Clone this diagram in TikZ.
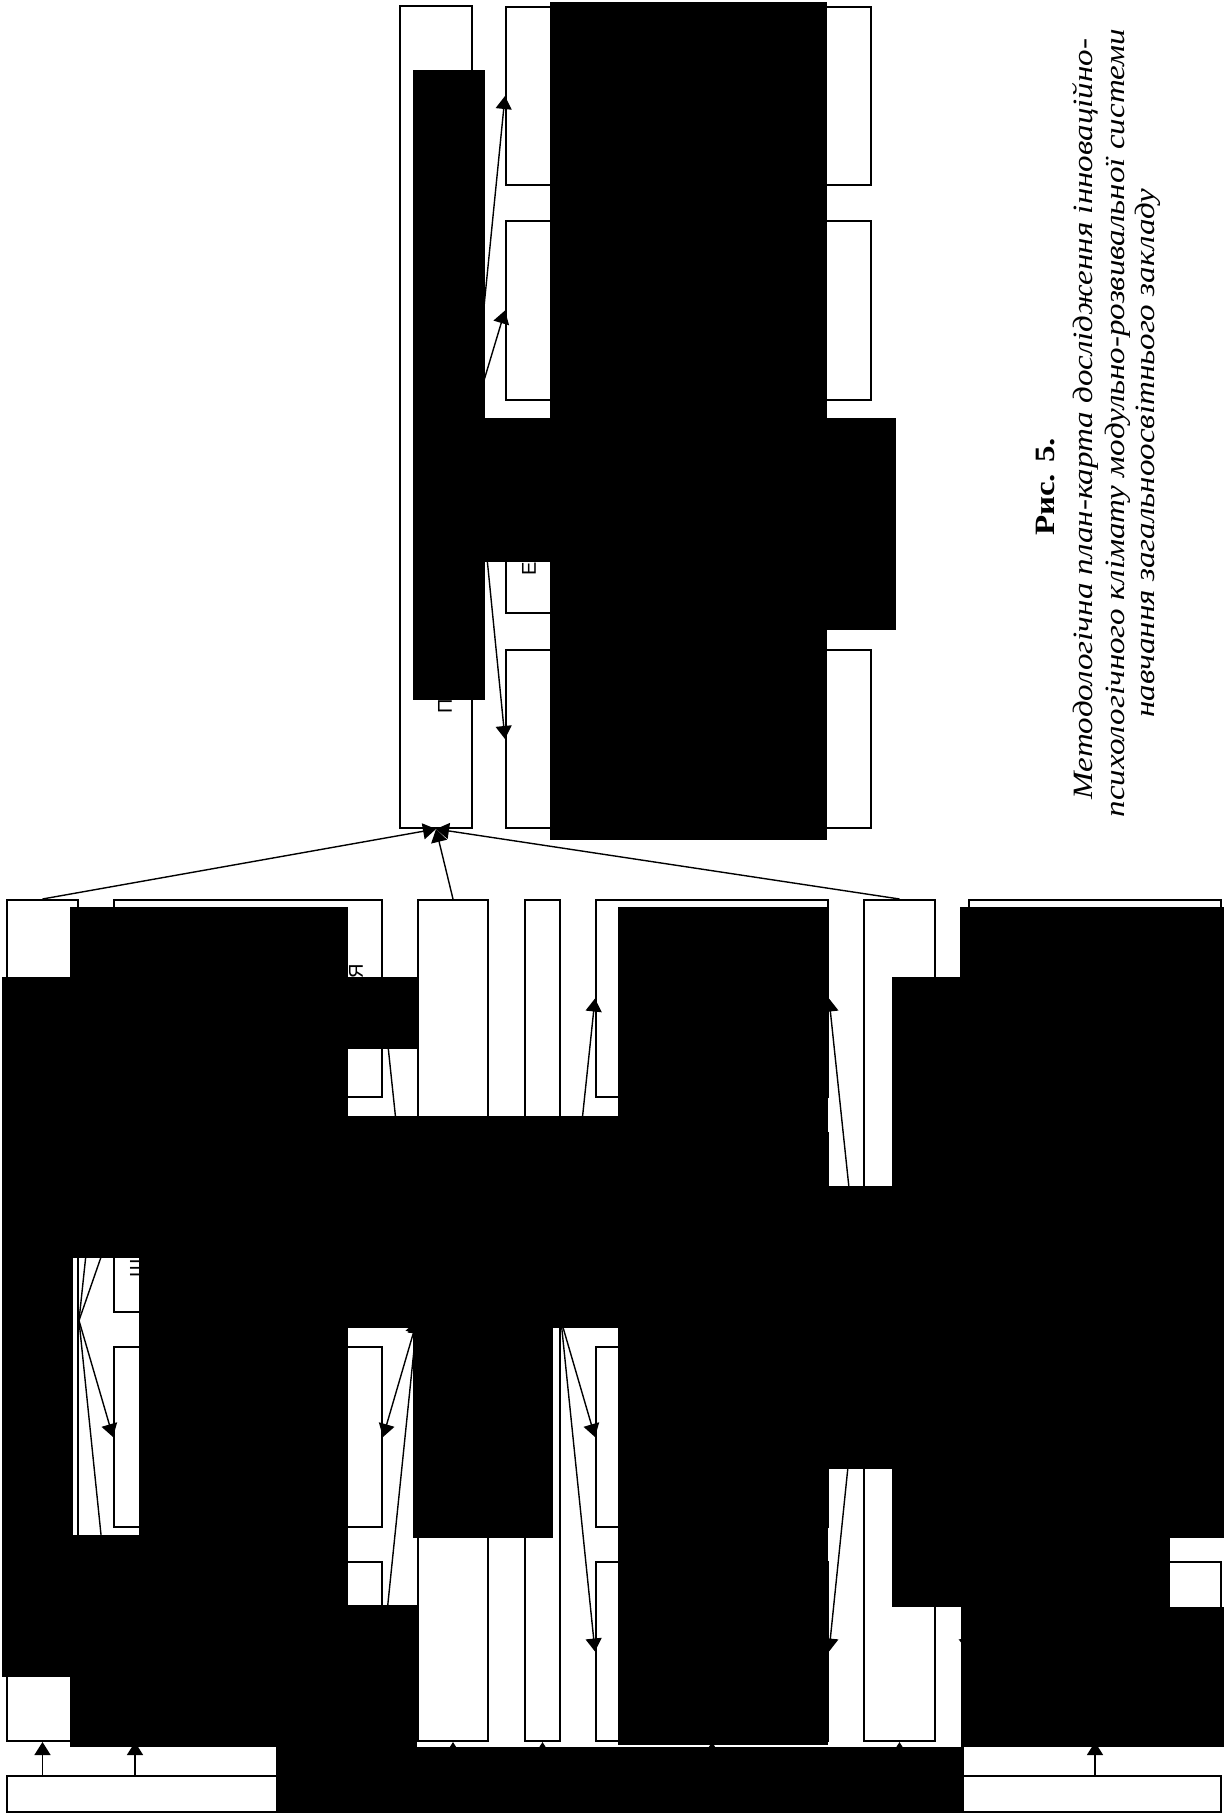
\documentclass[tikz,border=0pt]{standalone}
\usepackage{fontspec}
\setmainfont{Liberation Serif}
\newfontfamily\capfont[FakeStretch=1.18]{Liberation Serif}
\newfontfamily\markfont{Liberation Sans}
\usetikzlibrary{positioning,arrows.meta,fit}

\begin{document}
\begin{tikzpicture}[
        x=0.5pt, y=-0.5pt,
        >={Triangle[length=6.5pt,width=8pt]},
        cell/.style={
            rectangle,
            draw=black,
            line width=1pt,
            inner sep=0pt
        },
        mask/.style={rectangle, fill=black, draw=none, inner sep=0pt},
        arrow/.style={->, line width=0.7pt},
        twoway/.style={<->, line width=0.7pt},
        stub/.style={font=\markfont\fontsize{10}{10}\selectfont, rotate=90, inner sep=0pt},
        capline/.style={rotate=90, inner sep=0pt, font=\capfont\fontsize{14}{16}\selectfont}
    ]
    \useasboundingbox (0,0) rectangle (1224,1813);

    % programme box and its four blocks
    \node[cell, fit={(400,6) (472,828)}] (prog) {};
    \node[cell, fit={(506,7) (871,185)}] (task1) {};
    \node[cell, fit={(506,221) (871,400)}] (task2) {};
    \node[cell, fit={(506,436) (871,613)}] (task3) {};
    \node[cell, fit={(506,650) (871,828)}] (task4) {};

    % lower level: axes and groups
    \node[cell, fit={(7,900) (78,1741)}] (axisL) {};
    \node[cell, fit={(418,900) (488,1741)}] (axisM) {};
    \node[cell, fit={(525,900) (560,1741)}] (axisN) {};
    \node[cell, fit={(864,900) (935,1741)}] (axisR) {};
    \foreach \i/\ya/\yb in {1/900/1097, 2/1133/1312, 3/1347/1527, 4/1562/1741} {
        \node[cell, fit={(114,\ya) (382,\yb)}] (grpA\i) {};
        \node[cell, fit={(596,\ya) (828,\yb)}] (grpB\i) {};
        \node[cell, fit={(969,\ya) (1221,\yb)}] (grpC\i) {};
    }
    \node[cell, fit={(7,1776) (1221,1812)}] (base) {};

    % connectors
    \foreach \i in {1,...,4} {
        \draw[arrow] (prog.east) -- (task\i.west);
        \draw[arrow] (axisL.east) -- (grpA\i.west);
        \draw[twoway] (grpA\i.east) -- (axisM.west);
        \draw[arrow] (axisN.east) -- (grpB\i.west);
        \draw[arrow] (axisR.west) -- (grpB\i.east);
        \draw[arrow] (axisR.east) -- (grpC\i.west);
    }
    \foreach \n in {axisL, axisM, axisR}
        \draw[arrow] (\n.north) -- (prog.south);
    \foreach \n in {axisL, axisM, axisN, grpB4, axisR, grpC4}
        \draw[arrow] (base.north -| \n.south) -- (\n.south);
    \draw[arrow] ([xshift=11pt]grpA4.south west |- base.north) -- ([xshift=11pt]grpA4.south west);

    % letters left outside the dark text fields
    \node[stub] (markP) at (445,706) {П};
    \node[stub] (markE) at (529,569) {Е};
    \node[stub] (markYa) at (356,971) {Я};
    \node[stub] (markSh) at (137,1268) {Ш};

    % dark text fields
    \node[mask, fit={(413,70) (485,700)}] (ink1) {};
    \node[mask, fit={(550,2) (827,840)}] (ink2) {};
    \node[mask, fit={(485,418) (896,562)}] (ink3) {};
    \node[mask, fit={(827,418) (896,630)}] (ink4) {};
    \node[mask, fit={(70,907) (348,1258)}] (ink5) {};
    \node[mask, fit={(2,977) (417,1049)}] (ink6) {};
    \node[mask, fit={(2,977) (73,1677)}] (ink7) {};
    \node[mask, fit={(139,1116) (826,1328)}] (ink8) {};
    \node[mask, fit={(413,1116) (553,1538)}] (ink9) {};
    \node[mask, fit={(139,1258) (348,1535)}] (ink10) {};
    \node[mask, fit={(70,1535) (348,1747)}] (ink11) {};
    \node[mask, fit={(348,1605) (417,1747)}] (ink12) {};
    \node[mask, fit={(276,1747) (964,1813)}] (ink13) {};
    \node[mask, fit={(618,907) (828,1745)}] (ink14) {};
    \node[mask, fit={(828,1186) (892,1469)}] (ink15) {};
    \node[mask, fit={(892,977) (961,1607)}] (ink16) {};
    \node[mask, fit={(960,907) (1224,1538)}] (ink17) {};
    \node[mask, fit={(892,1186) (1170,1607)}] (ink18) {};
    \node[mask, fit={(961,1607) (1224,1747)}] (ink19) {};

    % caption
    \node[capline] (capnum) at (1046,487) {\textbf{Рис. 5.}};
    \node[capline] (cap1) at (1086,419) {\textit{Методологічна план-карта дослідження інноваційно-}};
    \node[capline] (cap2) at (1118,423) {\textit{психологічного клімату модульно-розвивальної системи}};
    \node[capline] (cap3) at (1148,453) {\textit{навчання загальноосвітнього закладу}};

\end{tikzpicture}
\end{document}
